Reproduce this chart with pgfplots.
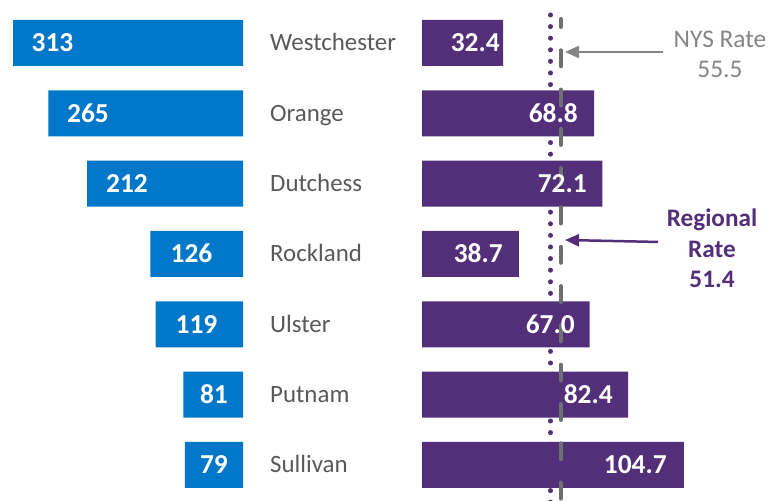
\documentclass[border=0pt]{standalone}
\usepackage{fontspec}
\setmainfont{Carlito}
\usepackage{pgfplots}
\pgfplotsset{compat=1.18}
\usepackage{pgfplotstable}
\usetikzlibrary{arrows.meta}
\definecolor{cblue}{HTML}{0077C8}
\definecolor{cpurple}{HTML}{532F79}
\definecolor{cgray}{HTML}{6E6F72}
\definecolor{ctext}{HTML}{595959}
\definecolor{cnys}{HTML}{858585}

\pgfplotstableread{
row count lpos label name
0 313 259.3 313 Westchester
1 265 211.0 265 Orange
2 212 157.9 212 Dutchess
3 126 70.1 126 Rockland
4 119 63.3 119 Ulster
5 81 39.5 81 Putnam
6 79 39.5 79 Sullivan
}\countdata

\pgfplotstableread{
row rate lpos label
0 32.4 31.2 32.4
1 68.8 62.4 68.8
2 72.1 66.0 72.1
3 38.7 32.4 38.7
4 67.0 61.2 67.0
5 82.4 76.4 82.4
6 104.7 98.0 104.7
}\ratedata

\begin{document}
\begin{tikzpicture}
\begin{axis}[at={(0,0)}, anchor=south west, scale only axis,
  width=243bp, height=501bp,
  xmin=0, xmax=330.7, x dir=reverse,
  ymin=-0.611, ymax=6.512, y dir=reverse,
  hide axis, clip=false]
\addplot[xbar, bar width=46bp, fill=cblue, draw=none] table[x=count, y=row] \countdata;
\addplot[draw=none, mark=none, nodes near coords, point meta=explicit symbolic,
  nodes near coords style={anchor=center, text=white, inner sep=0pt,
    font=\bfseries\fontsize{27.5}{30}\selectfont, text height=17.5bp, text depth=0pt}]
  table[x=lpos, y=row, meta=label] \countdata;
\addplot[draw=none, mark=none, nodes near coords, point meta=explicit symbolic,
  nodes near coords style={anchor=west, xshift=27bp, text=ctext, inner sep=0pt,
    font=\fontsize{25}{30}\selectfont, text height=16bp, text depth=0pt}]
  table[x expr=0, y=row, meta=name] \countdata;
\end{axis}

\begin{axis}[at={(422bp,0)}, anchor=south west, scale only axis,
  width=359bp, height=501bp,
  xmin=0, xmax=143.6,
  ymin=-0.611, ymax=6.512, y dir=reverse,
  hide axis, clip=false]
\addplot[cpurple, line width=5bp, line cap=round, dash pattern=on 0bp off 11.6bp]
  coordinates {(51.4,-0.3981) (51.4,6.6)};
\addplot[xbar, bar width=46bp, fill=cpurple, draw=none] table[x=rate, y=row] \ratedata;
\addplot[cgray, line width=4bp, line cap=round, dash pattern=on 16bp off 23.3bp, dash phase=8bp]
  coordinates {(55.5,-0.3412) (55.5,6.6)};
\addplot[draw=none, mark=none, nodes near coords, point meta=explicit symbolic,
  nodes near coords style={anchor=east, text=white, inner sep=0pt,
    font=\bfseries\fontsize{27.5}{30}\selectfont, text height=17.5bp, text depth=0pt}]
  table[x=lpos, y=row, meta=label] \ratedata;

\draw[cnys, line width=2.5bp, -{Triangle[length=14bp,width=12bp]}]
  (axis cs:96.4,0.128) -- (axis cs:57.2,0.128);
\draw[cpurple, line width=2.5bp, -{Triangle[length=14bp,width=12bp]}]
  (axis cs:94.4,2.829) -- (axis cs:57.2,2.801);

\node[anchor=base, text=cnys, inner sep=0pt, font=\fontsize{25.5}{30}\selectfont]
  at (axis cs:119.2,0.0711) {NYS Rate};
\node[anchor=base, text=cnys, inner sep=0pt, font=\fontsize{25.5}{30}\selectfont]
  at (axis cs:119.2,0.4976) {55.5};
\node[anchor=base, text=cpurple, inner sep=0pt, font=\bfseries\fontsize{25.3}{30}\selectfont]
  at (axis cs:116.0,2.616) {Regional};
\node[anchor=base, text=cpurple, inner sep=0pt, font=\bfseries\fontsize{25.3}{30}\selectfont]
  at (axis cs:116.0,3.057) {Rate};
\node[anchor=base, text=cpurple, inner sep=0pt, font=\bfseries\fontsize{25.3}{30}\selectfont]
  at (axis cs:116.0,3.483) {51.4};
\end{axis}
\pgfresetboundingbox
\useasboundingbox (0,0) rectangle (781bp,501bp);
\end{tikzpicture}
\end{document}
